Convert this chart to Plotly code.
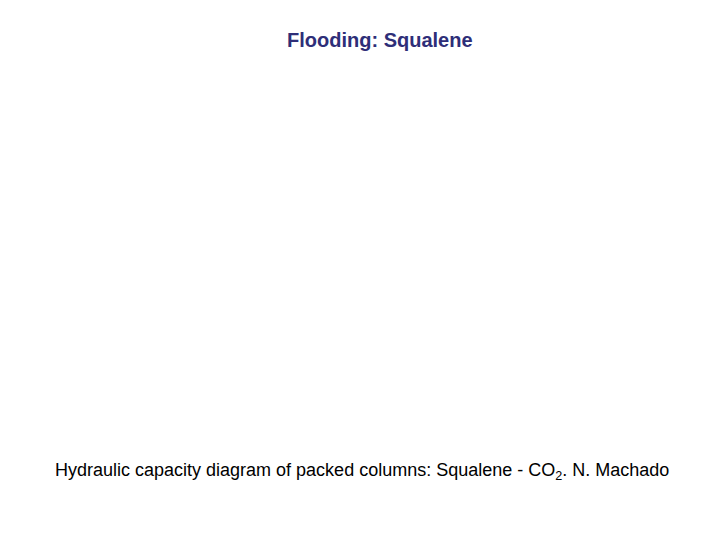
import plotly.graph_objects as go

# Slide text (no plotted data in the reference)
title_text = "<b>Flooding: Squalene</b>"
caption_text = "Hydraulic capacity diagram of packed columns: Squalene - CO<sub>2</sub>. N. Machado"

W, H = 720, 540
OFF = 8  # default page margin of the html body

fig = go.Figure()

fig.add_annotation(text=title_text, xref='paper', yref='paper',
                   x=(380 - OFF) / W, y=1 - (40 - OFF) / H,
                   showarrow=False, xanchor='center', yanchor='middle',
                   font=dict(family="Liberation Sans, Arial, sans-serif", size=20, color="#2E2E78"))

fig.add_annotation(text=caption_text, xref='paper', yref='paper',
                   x=(362 - OFF) / W, y=1 - (471 - OFF) / H,
                   showarrow=False, xanchor='center', yanchor='middle',
                   font=dict(family="Liberation Sans, Arial, sans-serif", size=18, color="black"))

fig.update_layout(width=W, height=H,
                  margin=dict(l=0, r=0, t=0, b=0),
                  paper_bgcolor='white', plot_bgcolor='white',
                  xaxis=dict(visible=False), yaxis=dict(visible=False),
                  showlegend=False)

fig.write_html("out.html")
